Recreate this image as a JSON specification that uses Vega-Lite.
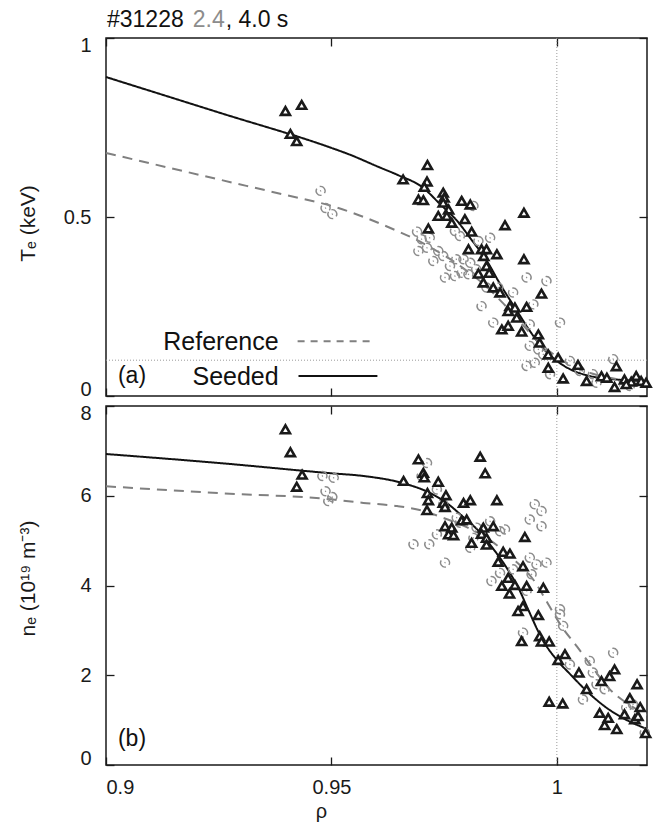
{
  "$schema": "https://vega.github.io/schema/vega-lite/v6.json",
  "padding": {"left": 16, "top": 8, "right": 8, "bottom": 4},
  "spacing": 10,
  "bounds": "flush",
  "config": {
    "font": "Liberation Sans",
    "view": {"stroke": "#1a1a1a", "strokeWidth": 1.5},
    "axis": {
      "domain": false, "grid": false, "tickColor": "#1a1a1a", "tickWidth": 1.3, "tickSize": -8,
      "labelFontSize": 20, "labelColor": "#1a1a1a", "titleFontSize": 21, "titleFontWeight": "normal",
      "titleColor": "#1a1a1a"
    }
  },
  "datasets": {
    "teLines": [
      {"rho": 0.9, "Te": 0.891, "case": "Seeded"}, {"rho": 0.925, "Te": 0.792, "case": "Seeded"},
      {"rho": 0.95, "Te": 0.693, "case": "Seeded"},
      {"rho": 0.9535, "Te": 0.677, "case": "Seeded"}, {"rho": 0.9608, "Te": 0.638, "case": "Seeded"},
      {"rho": 0.9646, "Te": 0.618, "case": "Seeded"}, {"rho": 0.9704, "Te": 0.581, "case": "Seeded"},
      {"rho": 0.9741, "Te": 0.536, "case": "Seeded"}, {"rho": 0.9779, "Te": 0.489, "case": "Seeded"},
      {"rho": 0.9808, "Te": 0.441, "case": "Seeded"}, {"rho": 0.9845, "Te": 0.377, "case": "Seeded"},
      {"rho": 0.9874, "Te": 0.313, "case": "Seeded"}, {"rho": 0.9912, "Te": 0.237, "case": "Seeded"},
      {"rho": 0.994, "Te": 0.182, "case": "Seeded"}, {"rho": 0.9969, "Te": 0.134, "case": "Seeded"},
      {"rho": 1.0, "Te": 0.098, "case": "Seeded"}, {"rho": 1.0029, "Te": 0.075, "case": "Seeded"},
      {"rho": 1.0073, "Te": 0.056, "case": "Seeded"}, {"rho": 1.0124, "Te": 0.047, "case": "Seeded"},
      {"rho": 1.02, "Te": 0.042, "case": "Seeded"},
      {"rho": 0.9, "Te": 0.679, "case": "Reference"}, {"rho": 0.925, "Te": 0.605, "case": "Reference"},
      {"rho": 0.94, "Te": 0.561, "case": "Reference"}, {"rho": 0.95, "Te": 0.531, "case": "Reference"},
      {"rho": 0.9646, "Te": 0.461, "case": "Reference"}, {"rho": 0.9681, "Te": 0.441, "case": "Reference"},
      {"rho": 0.972, "Te": 0.415, "case": "Reference"}, {"rho": 0.976, "Te": 0.385, "case": "Reference"},
      {"rho": 0.98, "Te": 0.35, "case": "Reference"}, {"rho": 0.984, "Te": 0.31, "case": "Reference"},
      {"rho": 0.988, "Te": 0.26, "case": "Reference"}, {"rho": 0.992, "Te": 0.205, "case": "Reference"},
      {"rho": 0.996, "Te": 0.15, "case": "Reference"}, {"rho": 1.0, "Te": 0.11, "case": "Reference"},
      {"rho": 1.004, "Te": 0.08, "case": "Reference"}, {"rho": 1.008, "Te": 0.062, "case": "Reference"},
      {"rho": 1.012, "Te": 0.05, "case": "Reference"}, {"rho": 1.02, "Te": 0.04, "case": "Reference"}
    ],
    "teSeed": [
      {"rho": 0.9398, "Te": 0.796}, {"rho": 0.9434, "Te": 0.813}, {"rho": 0.9409, "Te": 0.732}, {"rho": 0.9423, "Te": 0.712},
      {"rho": 0.9713, "Te": 0.645}, {"rho": 0.9659, "Te": 0.605}, {"rho": 0.9712, "Te": 0.599}, {"rho": 0.9706, "Te": 0.584},
      {"rho": 0.9693, "Te": 0.549}, {"rho": 0.9704, "Te": 0.547}, {"rho": 0.9748, "Te": 0.568}, {"rho": 0.975, "Te": 0.554},
      {"rho": 0.9748, "Te": 0.54}, {"rho": 0.9789, "Te": 0.545}, {"rho": 0.9808, "Te": 0.535}, {"rho": 0.976, "Te": 0.521},
      {"rho": 0.9737, "Te": 0.503}, {"rho": 0.9756, "Te": 0.503}, {"rho": 0.9767, "Te": 0.484}, {"rho": 0.9796, "Te": 0.494},
      {"rho": 0.9715, "Te": 0.468}, {"rho": 0.9811, "Te": 0.459}, {"rho": 0.9927, "Te": 0.512}, {"rho": 0.9885, "Te": 0.477},
      {"rho": 0.9804, "Te": 0.41}, {"rho": 0.9833, "Te": 0.41}, {"rho": 0.9844, "Te": 0.41}, {"rho": 0.9867, "Te": 0.396},
      {"rho": 0.9838, "Te": 0.391}, {"rho": 0.9927, "Te": 0.382}, {"rho": 0.9844, "Te": 0.363}, {"rho": 0.985, "Te": 0.344},
      {"rho": 0.9826, "Te": 0.342}, {"rho": 0.9837, "Te": 0.317}, {"rho": 0.9859, "Te": 0.303}, {"rho": 0.9874, "Te": 0.289},
      {"rho": 0.9966, "Te": 0.286}, {"rho": 0.9896, "Te": 0.251}, {"rho": 0.9907, "Te": 0.247}, {"rho": 0.9933, "Te": 0.249},
      {"rho": 0.9892, "Te": 0.237}, {"rho": 0.9911, "Te": 0.219}, {"rho": 0.9878, "Te": 0.186}, {"rho": 0.9892, "Te": 0.196},
      {"rho": 0.9922, "Te": 0.18}, {"rho": 0.9959, "Te": 0.172}, {"rho": 0.9962, "Te": 0.149}, {"rho": 0.9981, "Te": 0.116},
      {"rho": 1.0003, "Te": 0.107}, {"rho": 0.9981, "Te": 0.079}, {"rho": 1.0014, "Te": 0.049}, {"rho": 1.0047, "Te": 0.087},
      {"rho": 1.0066, "Te": 0.042}, {"rho": 1.0099, "Te": 0.055}, {"rho": 1.0111, "Te": 0.051}, {"rho": 1.0132, "Te": 0.083},
      {"rho": 1.0128, "Te": 0.025}, {"rho": 1.015, "Te": 0.046}, {"rho": 1.0165, "Te": 0.04}, {"rho": 1.0176, "Te": 0.056},
      {"rho": 1.0187, "Te": 0.042}, {"rho": 1.0198, "Te": 0.037}, {"rho": 1.0154, "Te": 0.033}
    ],
    "teRef": [
      {"rho": 0.9476, "Te": 0.573}, {"rho": 0.9487, "Te": 0.525}, {"rho": 0.9502, "Te": 0.508}, {"rho": 0.969, "Te": 0.459},
      {"rho": 0.97, "Te": 0.438}, {"rho": 0.9718, "Te": 0.442}, {"rho": 0.9693, "Te": 0.405}, {"rho": 0.9712, "Te": 0.414},
      {"rho": 0.9737, "Te": 0.405}, {"rho": 0.9774, "Te": 0.461}, {"rho": 0.9785, "Te": 0.447}, {"rho": 0.9815, "Te": 0.531},
      {"rho": 0.9826, "Te": 0.433}, {"rho": 0.9852, "Te": 0.442}, {"rho": 0.9726, "Te": 0.377}, {"rho": 0.9748, "Te": 0.391},
      {"rho": 0.9763, "Te": 0.363}, {"rho": 0.9777, "Te": 0.382}, {"rho": 0.9793, "Te": 0.382}, {"rho": 0.9808, "Te": 0.372},
      {"rho": 0.9752, "Te": 0.331}, {"rho": 0.9774, "Te": 0.335}, {"rho": 0.9789, "Te": 0.344}, {"rho": 0.9804, "Te": 0.34},
      {"rho": 0.9821, "Te": 0.354}, {"rho": 0.9844, "Te": 0.303}, {"rho": 0.987, "Te": 0.303}, {"rho": 0.9903, "Te": 0.289},
      {"rho": 0.9933, "Te": 0.331}, {"rho": 0.9948, "Te": 0.256}, {"rho": 0.9977, "Te": 0.321}, {"rho": 0.9833, "Te": 0.251},
      {"rho": 0.9859, "Te": 0.205}, {"rho": 0.994, "Te": 0.2}, {"rho": 1.0007, "Te": 0.205}, {"rho": 0.994, "Te": 0.14},
      {"rho": 0.9959, "Te": 0.13}, {"rho": 0.9933, "Te": 0.084}, {"rho": 0.9951, "Te": 0.093}, {"rho": 0.997, "Te": 0.116},
      {"rho": 1.0029, "Te": 0.098}, {"rho": 1.0051, "Te": 0.07}, {"rho": 1.008, "Te": 0.061}, {"rho": 1.0088, "Te": 0.037},
      {"rho": 1.0125, "Te": 0.103}, {"rho": 1.0139, "Te": 0.028}, {"rho": 1.0162, "Te": 0.028}, {"rho": 0.9985, "Te": 0.061}
    ],
    "neLines": [
      {"rho": 0.9, "ne": 6.93, "case": "Seeded"}, {"rho": 0.925, "ne": 6.73, "case": "Seeded"},
      {"rho": 0.95, "ne": 6.5, "case": "Seeded"},
      {"rho": 0.9571, "ne": 6.44, "case": "Seeded"}, {"rho": 0.9659, "ne": 6.28, "case": "Seeded"},
      {"rho": 0.9719, "ne": 6.06, "case": "Seeded"}, {"rho": 0.9757, "ne": 5.83, "case": "Seeded"},
      {"rho": 0.9792, "ne": 5.53, "case": "Seeded"}, {"rho": 0.983, "ne": 5.18, "case": "Seeded"},
      {"rho": 0.9858, "ne": 4.83, "case": "Seeded"}, {"rho": 0.9889, "ne": 4.39, "case": "Seeded"},
      {"rho": 0.9918, "ne": 3.88, "case": "Seeded"}, {"rho": 0.9934, "ne": 3.52, "case": "Seeded"},
      {"rho": 0.9969, "ne": 2.78, "case": "Seeded"}, {"rho": 1.0, "ne": 2.34, "case": "Seeded"},
      {"rho": 1.0029, "ne": 2.03, "case": "Seeded"}, {"rho": 1.0066, "ne": 1.65, "case": "Seeded"},
      {"rho": 1.0111, "ne": 1.27, "case": "Seeded"}, {"rho": 1.0146, "ne": 1.05, "case": "Seeded"},
      {"rho": 1.02, "ne": 0.8, "case": "Seeded"},
      {"rho": 0.9, "ne": 6.21, "case": "Reference"}, {"rho": 0.925, "ne": 6.06, "case": "Reference"},
      {"rho": 0.95, "ne": 5.92, "case": "Reference"},
      {"rho": 0.9571, "ne": 5.84, "case": "Reference"}, {"rho": 0.9646, "ne": 5.77, "case": "Reference"},
      {"rho": 0.9704, "ne": 5.66, "case": "Reference"}, {"rho": 0.975, "ne": 5.5, "case": "Reference"},
      {"rho": 0.98, "ne": 5.3, "case": "Reference"}, {"rho": 0.985, "ne": 5.02, "case": "Reference"},
      {"rho": 0.99, "ne": 4.62, "case": "Reference"}, {"rho": 0.995, "ne": 4.1, "case": "Reference"},
      {"rho": 0.998, "ne": 3.6, "case": "Reference"}, {"rho": 1.0013, "ne": 3.05, "case": "Reference"},
      {"rho": 1.0044, "ne": 2.65, "case": "Reference"}, {"rho": 1.008, "ne": 2.16, "case": "Reference"},
      {"rho": 1.0117, "ne": 1.69, "case": "Reference"}, {"rho": 1.0155, "ne": 1.38, "case": "Reference"},
      {"rho": 1.02, "ne": 1.12, "case": "Reference"}
    ],
    "neSeed": [
      {"rho": 0.9398, "ne": 7.48}, {"rho": 0.9409, "ne": 6.97}, {"rho": 0.9435, "ne": 6.47}, {"rho": 0.9423, "ne": 6.2},
      {"rho": 0.9693, "ne": 6.81}, {"rho": 0.983, "ne": 6.87}, {"rho": 0.9841, "ne": 6.5}, {"rho": 0.9704, "ne": 6.51},
      {"rho": 0.9706, "ne": 6.41}, {"rho": 0.966, "ne": 6.33}, {"rho": 0.9737, "ne": 6.31}, {"rho": 0.9713, "ne": 6.06},
      {"rho": 0.9754, "ne": 6.01}, {"rho": 0.9715, "ne": 5.9}, {"rho": 0.9748, "ne": 5.84}, {"rho": 0.9752, "ne": 5.75},
      {"rho": 0.9712, "ne": 5.68}, {"rho": 0.9793, "ne": 5.84}, {"rho": 0.9808, "ne": 5.9}, {"rho": 0.9867, "ne": 5.9},
      {"rho": 0.9789, "ne": 5.45}, {"rho": 0.98, "ne": 5.47}, {"rho": 0.9752, "ne": 5.32}, {"rho": 0.9767, "ne": 5.29},
      {"rho": 0.976, "ne": 5.14}, {"rho": 0.9771, "ne": 5.12}, {"rho": 0.9837, "ne": 5.29}, {"rho": 0.9859, "ne": 5.32},
      {"rho": 0.9833, "ne": 5.15}, {"rho": 0.9844, "ne": 5.06}, {"rho": 0.9929, "ne": 5.08}, {"rho": 0.9811, "ne": 4.95},
      {"rho": 0.9844, "ne": 4.91}, {"rho": 0.9881, "ne": 4.75}, {"rho": 0.9896, "ne": 4.71}, {"rho": 0.987, "ne": 4.53},
      {"rho": 0.9925, "ne": 4.43}, {"rho": 0.9892, "ne": 4.17}, {"rho": 0.9878, "ne": 3.99}, {"rho": 0.9907, "ne": 4.01},
      {"rho": 0.9933, "ne": 3.99}, {"rho": 0.997, "ne": 3.95}, {"rho": 0.9895, "ne": 3.82}, {"rho": 0.9925, "ne": 3.54},
      {"rho": 0.9914, "ne": 3.43}, {"rho": 0.9959, "ne": 3.34}, {"rho": 0.9922, "ne": 2.76}, {"rho": 0.9962, "ne": 2.87},
      {"rho": 0.9966, "ne": 2.75}, {"rho": 0.9983, "ne": 2.75}, {"rho": 1.0003, "ne": 2.34}, {"rho": 1.0018, "ne": 2.47},
      {"rho": 0.9983, "ne": 1.41}, {"rho": 1.0013, "ne": 1.37}, {"rho": 1.0049, "ne": 2.06}, {"rho": 1.0066, "ne": 1.69},
      {"rho": 1.0099, "ne": 1.87}, {"rho": 1.0117, "ne": 1.98}, {"rho": 1.0128, "ne": 2.13}, {"rho": 1.0095, "ne": 1.16},
      {"rho": 1.0114, "ne": 1.05}, {"rho": 1.0106, "ne": 0.89}, {"rho": 1.0133, "ne": 0.8}, {"rho": 1.015, "ne": 1.13},
      {"rho": 1.0162, "ne": 1.49}, {"rho": 1.0178, "ne": 1.8}, {"rho": 1.0173, "ne": 1.02}, {"rho": 1.0185, "ne": 1.29},
      {"rho": 1.018, "ne": 1.09}, {"rho": 1.0197, "ne": 0.71}
    ],
    "neRef": [
      {"rho": 0.948, "ne": 6.44}, {"rho": 0.9487, "ne": 6.1}, {"rho": 0.9493, "ne": 5.88}, {"rho": 0.9505, "ne": 6.4},
      {"rho": 0.9502, "ne": 5.97}, {"rho": 0.9712, "ne": 6.73}, {"rho": 0.97, "ne": 6.44}, {"rho": 0.9734, "ne": 6.14},
      {"rho": 0.9748, "ne": 5.81}, {"rho": 0.9682, "ne": 4.92}, {"rho": 0.9717, "ne": 4.92}, {"rho": 0.9734, "ne": 5.14},
      {"rho": 0.9752, "ne": 4.51}, {"rho": 0.9778, "ne": 5.51}, {"rho": 0.9785, "ne": 5.4}, {"rho": 0.9808, "ne": 4.84},
      {"rho": 0.9815, "ne": 5.06}, {"rho": 0.9822, "ne": 5.29}, {"rho": 0.9852, "ne": 5.43}, {"rho": 0.9874, "ne": 5.21},
      {"rho": 0.9885, "ne": 5.25}, {"rho": 0.9855, "ne": 4.1}, {"rho": 0.9874, "ne": 4.28}, {"rho": 0.9903, "ne": 4.36},
      {"rho": 0.994, "ne": 4.62}, {"rho": 0.9955, "ne": 4.47}, {"rho": 0.9977, "ne": 4.51}, {"rho": 0.9944, "ne": 4.25},
      {"rho": 0.9933, "ne": 3.88}, {"rho": 0.994, "ne": 5.47}, {"rho": 0.9951, "ne": 5.81}, {"rho": 0.9966, "ne": 5.66},
      {"rho": 0.9966, "ne": 5.32}, {"rho": 1.0007, "ne": 3.47}, {"rho": 0.9925, "ne": 2.95}, {"rho": 1.0007, "ne": 3.36},
      {"rho": 1.0014, "ne": 3.1}, {"rho": 1.0029, "ne": 2.24}, {"rho": 1.0073, "ne": 2.32}, {"rho": 1.008, "ne": 2.06},
      {"rho": 1.0058, "ne": 1.46}, {"rho": 1.0088, "ne": 1.8}, {"rho": 1.0106, "ne": 1.69}, {"rho": 1.0125, "ne": 2.5},
      {"rho": 1.0154, "ne": 1.28}, {"rho": 1.0169, "ne": 1.35}, {"rho": 1.0195, "ne": 0.72}
    ]
  },
  "vconcat": [
    {
      "width": 541,
      "height": 358,
      "resolve": {"axis": {"x": "independent", "y": "independent"}},
      "layer": [
        {
          "data": {"values": [{}]},
          "mark": {"type": "rule", "stroke": "#9a9a9a", "strokeWidth": 1, "strokeDash": [1, 2]},
          "encoding": {"x": {"datum": 1, "type": "quantitative", "scale": {"domain": [0.9, 1.02], "nice": false, "zero": false}, "axis": null}}
        },
        {
          "data": {"values": [{}]},
          "mark": {"type": "rule", "stroke": "#9a9a9a", "strokeWidth": 1, "strokeDash": [1, 2]},
          "encoding": {"y": {"datum": 0.1, "type": "quantitative", "scale": {"domain": [0, 1], "nice": false}, "axis": null}}
        },
        {
          "data": {"name": "teLines"},
          "mark": {"type": "line", "strokeWidth": 2, "interpolate": "monotone"},
          "encoding": {
            "x": {"field": "rho", "type": "quantitative", "scale": {"domain": [0.9, 1.02], "nice": false, "zero": false},
                  "axis": {"orient": "bottom", "values": [0.9, 0.95, 1], "labels": false, "title": null}},
            "y": {"field": "Te", "type": "quantitative", "scale": {"domain": [0, 1], "nice": false},
                  "axis": {"orient": "left", "values": [0, 0.5, 1], "format": "~g", "labelPadding": 23,
                           "labelFlush": true, "labelFlushOffset": 3,
                           "title": "Tₑ (keV)", "titleX": -72, "titleY": 185, "titleAngle": 270,
                           "titleBaseline": "alphabetic", "titleAlign": "center"}},
            "color": {"field": "case", "type": "nominal", "scale": {"domain": ["Reference", "Seeded"], "range": ["#808080", "#111111"]}, "legend": null},
            "strokeDash": {"field": "case", "type": "nominal", "scale": {"domain": ["Reference", "Seeded"], "range": [[10, 7], [1, 0]]}, "legend": null}
          }
        },
        {
          "data": {"name": "teRef"},
          "mark": {"type": "point", "shape": "M-0.4,-0.92A1,1,0,0,0,-0.4,0.92M0.4,-0.92A1,1,0,0,1,0.4,0.92M-0.12,0L0.12,0",
                   "size": 80, "angle": 325, "filled": false, "stroke": "#8c8c8c", "strokeWidth": 1.4, "opacity": 1},
          "encoding": {
            "x": {"field": "rho", "type": "quantitative", "scale": {"domain": [0.9, 1.02], "nice": false, "zero": false}, "axis": null},
            "y": {"field": "Te", "type": "quantitative", "scale": {"domain": [0, 1], "nice": false}, "axis": null}
          }
        },
        {
          "data": {"name": "teSeed"},
          "mark": {"type": "point", "shape": "triangle-up", "size": 80, "filled": true, "fill": "#ffffff",
                   "stroke": "#1a1a1a", "strokeWidth": 2.6, "opacity": 1},
          "encoding": {
            "x": {"field": "rho", "type": "quantitative", "scale": {"domain": [0.9, 1.02], "nice": false, "zero": false},
                  "axis": {"orient": "top", "values": [0.9, 0.95, 1], "labels": false, "title": null}},
            "y": {"field": "Te", "type": "quantitative", "scale": {"domain": [0, 1], "nice": false},
                  "axis": {"orient": "right", "values": [0, 0.5, 1], "labels": false, "title": null}}
          }
        },
        {
          "data": {"values": [{}]},
          "mark": {"type": "rule", "stroke": "#808080", "strokeWidth": 2, "strokeDash": [7, 6]},
          "encoding": {
            "x": {"datum": 0.9425, "type": "quantitative", "scale": {"domain": [0.9, 1.02], "nice": false, "zero": false}, "axis": null},
            "x2": {"datum": 0.9597},
            "y": {"datum": 0.153, "type": "quantitative", "scale": {"domain": [0, 1], "nice": false}, "axis": null}
          }
        },
        {
          "data": {"values": [{}]},
          "mark": {"type": "rule", "stroke": "#111111", "strokeWidth": 2},
          "encoding": {
            "x": {"datum": 0.9427, "type": "quantitative", "scale": {"domain": [0.9, 1.02], "nice": false, "zero": false}, "axis": null},
            "x2": {"datum": 0.9602},
            "y": {"datum": 0.056, "type": "quantitative", "scale": {"domain": [0, 1], "nice": false}, "axis": null}
          }
        },
        {
          "data": {"values": [{}]},
          "mark": {"type": "text", "text": "Reference", "align": "right", "baseline": "alphabetic", "fontSize": 25, "color": "#111111"},
          "encoding": {
            "x": {"datum": 0.9383, "type": "quantitative", "scale": {"domain": [0.9, 1.02], "nice": false, "zero": false}, "axis": null},
            "y": {"datum": 0.128, "type": "quantitative", "scale": {"domain": [0, 1], "nice": false}, "axis": null}
          }
        },
        {
          "data": {"values": [{}]},
          "mark": {"type": "text", "text": "Seeded", "align": "right", "baseline": "alphabetic", "fontSize": 25, "color": "#111111"},
          "encoding": {
            "x": {"datum": 0.9383, "type": "quantitative", "scale": {"domain": [0.9, 1.02], "nice": false, "zero": false}, "axis": null},
            "y": {"datum": 0.031, "type": "quantitative", "scale": {"domain": [0, 1], "nice": false}, "axis": null}
          }
        },
        {
          "data": {"values": [{}]},
          "mark": {"type": "text", "text": "(a)", "align": "left", "baseline": "alphabetic", "fontSize": 23, "color": "#111111"},
          "encoding": {
            "x": {"datum": 0.90265, "type": "quantitative", "scale": {"domain": [0.9, 1.02], "nice": false, "zero": false}, "axis": null},
            "y": {"datum": 0.035, "type": "quantitative", "scale": {"domain": [0, 1], "nice": false}, "axis": null}
          }
        },
        {
          "data": {"values": [{}]},
          "mark": {"type": "text", "text": "#31228", "align": "left", "baseline": "alphabetic", "fontSize": 23, "color": "#111111"},
          "encoding": {
            "x": {"datum": 0.90022, "type": "quantitative", "scale": {"domain": [0.9, 1.02], "nice": false, "zero": false}, "axis": null},
            "y": {"datum": 1.031, "type": "quantitative", "scale": {"domain": [0, 1], "nice": false}, "axis": null}
          }
        },
        {
          "data": {"values": [{}]},
          "mark": {"type": "text", "text": "2.4", "align": "left", "baseline": "alphabetic", "fontSize": 23, "color": "#8c8c8c"},
          "encoding": {
            "x": {"datum": 0.91925, "type": "quantitative", "scale": {"domain": [0.9, 1.02], "nice": false, "zero": false}, "axis": null},
            "y": {"datum": 1.031, "type": "quantitative", "scale": {"domain": [0, 1], "nice": false}, "axis": null}
          }
        },
        {
          "data": {"values": [{}]},
          "mark": {"type": "text", "text": ", 4.0 s", "align": "left", "baseline": "alphabetic", "fontSize": 23, "color": "#111111"},
          "encoding": {
            "x": {"datum": 0.92655, "type": "quantitative", "scale": {"domain": [0.9, 1.02], "nice": false, "zero": false}, "axis": null},
            "y": {"datum": 1.031, "type": "quantitative", "scale": {"domain": [0, 1], "nice": false}, "axis": null}
          }
        }
      ]
    },
    {
      "width": 541,
      "height": 359,
      "resolve": {"axis": {"x": "independent", "y": "independent"}},
      "layer": [
        {
          "data": {"values": [{}]},
          "mark": {"type": "rule", "stroke": "#9a9a9a", "strokeWidth": 1, "strokeDash": [1, 2]},
          "encoding": {"x": {"datum": 1, "type": "quantitative", "scale": {"domain": [0.9, 1.02], "nice": false, "zero": false}, "axis": null}}
        },
        {
          "data": {"name": "neLines"},
          "mark": {"type": "line", "strokeWidth": 2, "interpolate": "monotone"},
          "encoding": {
            "x": {"field": "rho", "type": "quantitative", "scale": {"domain": [0.9, 1.02], "nice": false, "zero": false},
                  "axis": {"orient": "bottom", "values": [0.9, 0.95, 1], "format": "~g", "labelPadding": 20,
                           "title": "ρ", "titleX": 215, "titleY": 52, "titleBaseline": "alphabetic", "titleAlign": "center", "titleFontSize": 20}},
            "y": {"field": "ne", "type": "quantitative", "scale": {"domain": [0, 8], "nice": false},
                  "axis": {"orient": "left", "values": [0, 2, 4, 6, 8], "format": "d", "labelPadding": 23,
                           "labelFlush": true, "labelFlushOffset": 3,
                           "title": "nₑ (10¹⁹ m⁻³)", "titleX": -72, "titleY": 172, "titleAngle": 270,
                           "titleBaseline": "alphabetic", "titleAlign": "center"}},
            "color": {"field": "case", "type": "nominal", "scale": {"domain": ["Reference", "Seeded"], "range": ["#808080", "#111111"]}, "legend": null},
            "strokeDash": {"field": "case", "type": "nominal", "scale": {"domain": ["Reference", "Seeded"], "range": [[10, 7], [1, 0]]}, "legend": null}
          }
        },
        {
          "data": {"name": "neRef"},
          "mark": {"type": "point", "shape": "M-0.4,-0.92A1,1,0,0,0,-0.4,0.92M0.4,-0.92A1,1,0,0,1,0.4,0.92M-0.12,0L0.12,0",
                   "size": 80, "angle": 325, "filled": false, "stroke": "#8c8c8c", "strokeWidth": 1.4, "opacity": 1},
          "encoding": {
            "x": {"field": "rho", "type": "quantitative", "scale": {"domain": [0.9, 1.02], "nice": false, "zero": false}, "axis": null},
            "y": {"field": "ne", "type": "quantitative", "scale": {"domain": [0, 8], "nice": false}, "axis": null}
          }
        },
        {
          "data": {"name": "neSeed"},
          "mark": {"type": "point", "shape": "triangle-up", "size": 80, "filled": true, "fill": "#ffffff",
                   "stroke": "#1a1a1a", "strokeWidth": 2.6, "opacity": 1},
          "encoding": {
            "x": {"field": "rho", "type": "quantitative", "scale": {"domain": [0.9, 1.02], "nice": false, "zero": false},
                  "axis": {"orient": "top", "values": [0.9, 0.95, 1], "labels": false, "title": null}},
            "y": {"field": "ne", "type": "quantitative", "scale": {"domain": [0, 8], "nice": false},
                  "axis": {"orient": "right", "values": [0, 2, 4, 6, 8], "labels": false, "title": null}}
          }
        },
        {
          "data": {"values": [{}]},
          "mark": {"type": "text", "text": "(b)", "align": "left", "baseline": "alphabetic", "fontSize": 23, "color": "#111111"},
          "encoding": {
            "x": {"datum": 0.90265, "type": "quantitative", "scale": {"domain": [0.9, 1.02], "nice": false, "zero": false}, "axis": null},
            "y": {"datum": 0.42, "type": "quantitative", "scale": {"domain": [0, 8], "nice": false}, "axis": null}
          }
        }
      ]
    }
  ]
}
